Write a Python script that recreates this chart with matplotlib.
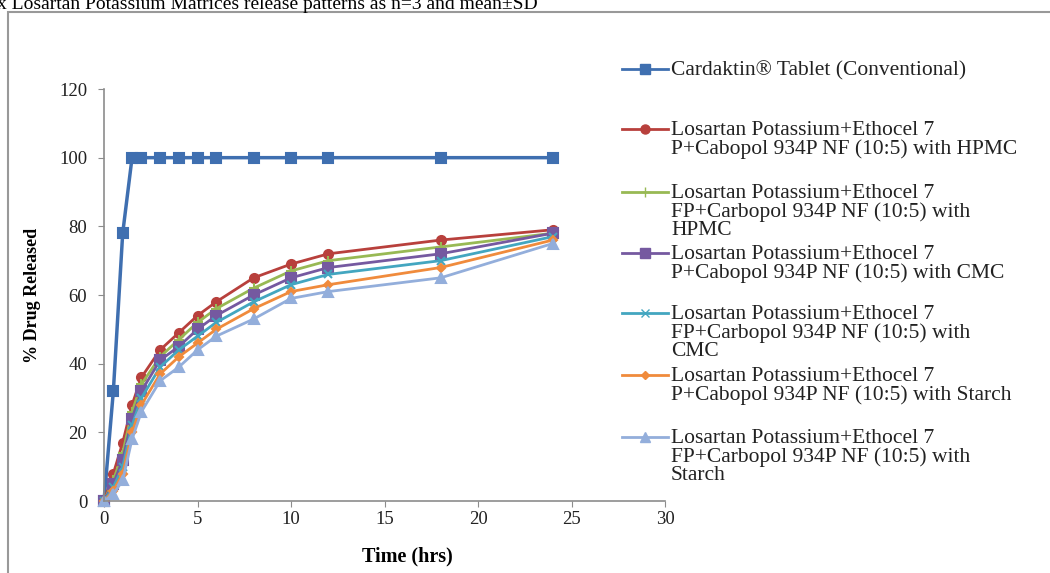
import matplotlib
matplotlib.use("Agg")
import matplotlib.pyplot as plt
from matplotlib.lines import Line2D
from matplotlib.patches import Rectangle

plt.rcParams['font.family'] = ['Liberation Serif', 'DejaVu Serif']

# data
time_hrs = [0, 0.5, 1, 1.5, 2, 3, 4, 5, 6, 8, 10, 12, 18, 24]
conventional = [0, 32, 78, 100, 100, 100, 100, 100, 100, 100, 100, 100, 100, 100]
ep_hpmc = [0, 8, 17, 28, 36, 44, 49, 54, 58, 65, 69, 72, 76, 79]
efp_hpmc = [0, 6, 14, 26, 34, 42, 47, 52, 56, 62, 67, 70, 74, 78]
ep_cmc = [0, 5, 12, 24, 32, 41, 45, 50, 54, 60, 65, 68, 72, 78]
efp_cmc = [0, 4, 10, 22, 30, 39, 44, 48, 52, 58, 63, 66, 70, 77]
ep_starch = [0, 3, 8, 20, 28, 37, 42, 46, 50, 56, 61, 63, 68, 76]
efp_starch = [0, 2, 6, 18, 26, 35, 39, 44, 48, 53, 59, 61, 65, 75]

labels = [
    "Cardaktin\u00ae Tablet (Conventional)",
    "Losartan Potassium+Ethocel 7\nP+Cabopol 934P NF (10:5) with HPMC",
    "Losartan Potassium+Ethocel 7\nFP+Carbopol 934P NF (10:5) with\nHPMC",
    "Losartan Potassium+Ethocel 7\nP+Cabopol 934P NF (10:5) with CMC",
    "Losartan Potassium+Ethocel 7\nFP+Carbopol 934P NF (10:5) with\nCMC",
    "Losartan Potassium+Ethocel 7\nP+Cabopol 934P NF (10:5) with Starch",
    "Losartan Potassium+Ethocel 7\nFP+Carbopol 934P NF (10:5) with\nStarch",
]
series = [conventional, ep_hpmc, efp_hpmc, ep_cmc, efp_cmc, ep_starch, efp_starch]

colors = ['#3F6FB0', '#B8403C', '#98B954', '#7559A0', '#43A6C0', '#F08B3C', '#93AEDB']
markers = ['s', 'o', '+', 's', 'x', 'D', '^']
msizes = [7, 6.5, 7, 7, 6, 4.5, 6.5]
lwidths = [2.5, 2, 2, 2, 2, 2, 2]
# legend rows (pixel y of first text line)
leg_y = [69, 129, 192, 253, 313, 375, 437]

W, H = 1050, 573
fig = plt.figure(figsize=(W / 100, H / 100), dpi=100)
ax = fig.add_axes([104 / W, 1 - 501 / H, (665 - 104) / W, (501 - 89) / H])

for y, c, m, ms, lw in zip(series, colors, markers, msizes, lwidths):
    ax.plot(time_hrs, y, color=c, marker=m, markersize=ms, linewidth=lw,
            markeredgecolor=c, markeredgewidth=1.5, clip_on=False)

ax.set_xlim(0, 30)
ax.set_ylim(0, 120)
ax.set_xticks(range(0, 31, 5))
ax.set_yticks(range(0, 121, 20))
for s in ['top', 'right']:
    ax.spines[s].set_visible(False)
for s in ['left', 'bottom']:
    ax.spines[s].set_color('#8c8c8c')
    ax.spines[s].set_linewidth(1.2)
ax.tick_params(colors='#8c8c8c', labelcolor='#222222', labelsize=13.5, length=4)
ax.tick_params(axis='y', pad=8)
ax.tick_params(axis='x', pad=3)
ax.set_xlabel("Time (hrs)", fontsize=14.5, fontweight='bold')
ax.xaxis.set_label_coords((407 - 104) / 561, (501 - 546) / 412)
ax.set_ylabel("% Drug Released", fontsize=13, fontweight='bold')
ax.yaxis.set_label_coords((41 - 104) / 561, 0.5)

# legend drawn by hand to match the uneven spacing
for lab, c, m, ms, yp in zip(labels, colors, markers, msizes, leg_y):
    yf = 1 - yp / H
    fig.add_artist(Line2D([622 / W, 668 / W], [yf, yf], color=c, linewidth=2,
                          transform=fig.transFigure))
    fig.add_artist(Line2D([645 / W], [yf], color=c, marker=m, markersize=ms,
                          markeredgecolor=c, transform=fig.transFigure))
    fig.text(671 / W, yf + 8 / H, lab, fontsize=15.5, va='top', ha='left',
             linespacing=0.94, color='#222222')

# outer chart frame
fig.add_artist(Rectangle((8 / W, -0.2), 1.2, 1 - 12 / H + 0.2, fill=False,
                         edgecolor='#999999', linewidth=1.5,
                         transform=fig.transFigure))

# caption at the top, cut off as in the source
fig.text(-3 / W, 1 - 9 / H, "x Losartan Potassium Matrices release patterns as n=3 and mean\u00b1SD",
         fontsize=14, va='baseline', ha='left')

fig.savefig("out.png", dpi=100)
